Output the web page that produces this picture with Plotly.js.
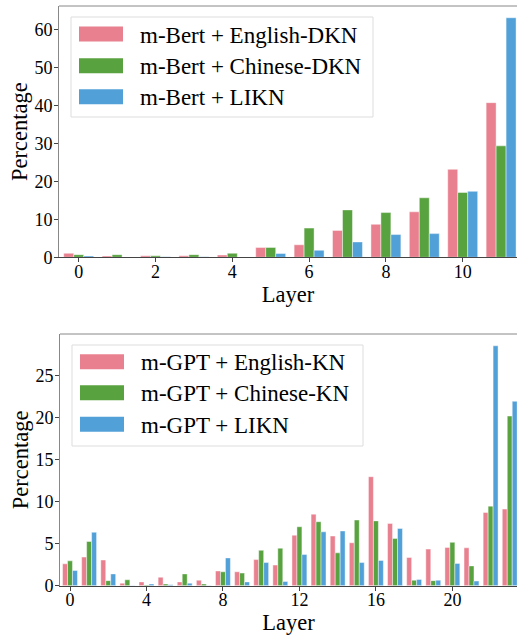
<!DOCTYPE html>
<html>
<head>
<meta charset="utf-8">
<script src="https://cdn.plot.ly/plotly-3.0.1.min.js"></script>
<style>
html,body{margin:0;padding:0;background:#fff;}
#chart{width:517px;height:635px;}
</style>
</head>
<body>
<div id="chart"></div>
<script>
// ---- data ----
const bertLayers = [0,1,2,3,4,5,6,7,8,9,10,11];
const bertEnglishDKN = [1.05,0.35,0.4,0.4,0.6,2.6,3.3,7.1,8.7,12.0,23.2,40.8];
const bertChineseDKN = [0.7,0.7,0.4,0.7,1.05,2.6,7.7,12.5,11.8,15.7,17.1,29.4];
const bertLIKN = [0.35,0.05,0.15,0.15,0.05,1.0,1.85,4.05,6.0,6.25,17.4,63.2];
const bertNames = ["m-Bert + English-DKN","m-Bert + Chinese-DKN","m-Bert + LIKN"];

const gptLayers = [0,1,2,3,4,5,6,7,8,9,10,11,12,13,14,15,16,17,18,19,20,21,22,23];
const gptEnglishKN = [2.6,3.4,3.05,0.3,0.45,1.0,0.45,0.65,1.75,1.65,3.1,2.45,6.0,8.5,5.9,5.1,12.95,7.4,3.35,4.35,4.55,4.5,8.7,9.1];
const gptChineseKN = [2.95,5.25,0.6,0.7,0.08,0.2,1.4,0.2,1.65,1.5,4.2,4.45,7.0,7.6,3.9,7.8,7.7,5.6,0.65,0.6,5.15,2.35,9.45,20.15];
const gptLIKN = [1.8,6.35,1.4,0.03,0.2,0.1,0.3,0.03,3.3,0.45,2.75,0.5,3.7,6.4,6.5,2.75,3.0,6.8,0.75,0.65,2.65,0.55,28.5,21.9];
const gptNames = ["m-GPT + English-KN","m-GPT + Chinese-KN","m-GPT + LIKN"];

const topTicks = [0,2,4,6,8,10];
const topYTicks = [0,10,20,30,40,50,60];
const botTicks = [0,4,8,12,16,20];
const botYTicks = [0,5,10,15,20,25];

// ---- style ----
const colors = ["#e8808f","#58a23f","#52a0d8"];
const W = 517, H = 635;
const FONT = "Liberation Serif";
const px = x => x / W;
const py = y => 1 - y / H;

function barTrace(x, y, i, name, xa, ya) {
  return {
    type: "bar", x: x, y: y, name: name, xaxis: xa, yaxis: ya,
    marker: {color: colors[i], line: {color: "rgba(255,255,255,0.55)", width: 0.8}},
    showlegend: false, hoverinfo: "x+y+name"
  };
}

const data = [
  barTrace(bertLayers, bertEnglishDKN, 0, bertNames[0], "x", "y"),
  barTrace(bertLayers, bertChineseDKN, 1, bertNames[1], "x", "y"),
  barTrace(bertLayers, bertLIKN, 2, bertNames[2], "x", "y"),
  barTrace(gptLayers, gptEnglishKN, 0, gptNames[0], "x2", "y2"),
  barTrace(gptLayers, gptChineseKN, 1, gptNames[1], "x2", "y2"),
  barTrace(gptLayers, gptLIKN, 2, gptNames[2], "x2", "y2")
];

function xaxisDef(domainL, ticks, range, anchor) {
  return {
    domain: [px(domainL), 1], anchor: anchor, range: range,
    tickmode: "array", tickvals: ticks, ticktext: ticks.map(String),
    ticks: "outside", ticklen: 4, tickwidth: 1, tickcolor: "#444",
    ticklabelstandoff: -6,
    showline: true, linecolor: "#444", linewidth: 1,
    showgrid: false, zeroline: false, fixedrange: true,
    tickfont: {family: FONT, size: 18, color: "#000"},
    title: {text: "Layer", font: {family: FONT, size: 22.5, color: "#000"}, standoff: 1}
  };
}
function yaxisDef(domTop, domBot, ticks, range, anchor) {
  return {
    domain: [py(domBot), py(domTop)], anchor: anchor, range: range,
    tickmode: "array", tickvals: ticks, ticktext: ticks.map(String),
    ticks: "outside", ticklen: 4, tickwidth: 1, tickcolor: "#444",
    ticklabelstandoff: -2,
    showline: true, linecolor: "#888", linewidth: 1,
    showgrid: false, zeroline: false, fixedrange: true,
    tickfont: {family: FONT, size: 18, color: "#000"},
    title: {text: "Percentage", font: {family: FONT, size: 22.5, color: "#000"}, standoff: 0}
  };
}

// legend (drawn as layout shapes + text)
const shapes = [];
const annotations = [];
function legend(box, rows, swX, textX, names) {
  shapes.push({type: "rect", xref: "paper", yref: "paper",
    x0: px(box[0]), x1: px(box[1]), y0: py(box[3]), y1: py(box[2]),
    line: {color: "#dddddd", width: 1}, fillcolor: "rgba(255,255,255,0.8)", layer: "above"});
  rows.forEach((ry, i) => {
    shapes.push({type: "rect", xref: "paper", yref: "paper",
      x0: px(swX[0]), x1: px(swX[1]), y0: py(ry + 7.5), y1: py(ry - 7.5),
      line: {width: 0}, fillcolor: colors[i], layer: "above"});
    annotations.push({xref: "paper", yref: "paper", x: px(textX), y: py(ry + 1),
      xanchor: "left", yanchor: "middle", showarrow: false, text: names[i],
      font: {family: FONT, size: 23, color: "#000"}});
  });
}
legend([71, 373, 17, 117], [34, 65.7, 96.7], [79, 123], 138, bertNames);
legend([72, 363, 345, 446], [361.7, 392.7, 424.3], [80, 124], 139, gptNames);

// top spines
shapes.push({type: "line", xref: "paper", yref: "paper", x0: px(59), x1: 1, y0: py(6), y1: py(6), line: {color: "#888", width: 1}});
shapes.push({type: "line", xref: "paper", yref: "paper", x0: px(60), x1: 1, y0: py(334), y1: py(334), line: {color: "#888", width: 1}});

const layout = {
  width: W, height: H,
  margin: {l: 0, r: 0, t: 0, b: 0, pad: 0},
  paper_bgcolor: "#fff", plot_bgcolor: "#fff",
  font: {family: FONT},
  barmode: "group", bargap: 0.22, bargroupgap: 0,
  showlegend: false,
  xaxis: xaxisDef(59, topTicks, [-0.513, 11.414], "y"),
  yaxis: yaxisDef(6, 257.3, topYTicks, [0, 66.3], "x"),
  xaxis2: xaxisDef(60, botTicks, [-0.523, 23.38], "y2"),
  yaxis2: yaxisDef(334, 585.7, botYTicks, [0, 29.9], "x2"),
  shapes: shapes,
  annotations: annotations
};

Plotly.newPlot("chart", data, layout, {displayModeBar: false, staticPlot: true});
</script>
</body>
</html>
